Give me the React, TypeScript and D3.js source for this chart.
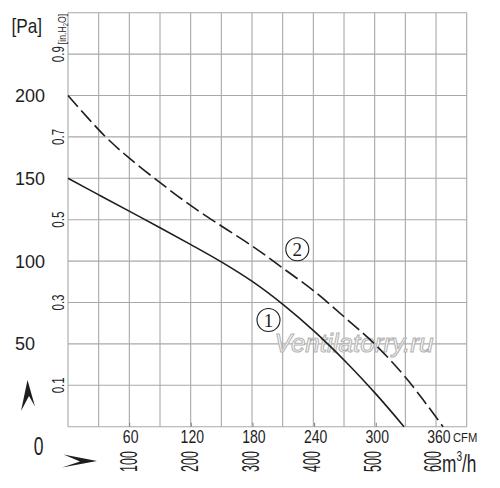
import React from 'react'
import * as d3 from 'd3'

// curve 1 (solid) and curve 2 (dashed), flow in CFM, pressure in Pa
const curve1Cfm = [0, 30, 60, 90, 120, 150, 180, 210, 240, 270, 300, 327]
const curve1Pa = [150, 140, 130, 120, 109.8, 99.2, 87.4, 73.4, 57.4, 39.4, 19.5, 0]
const curve2Cfm = [0, 36, 60, 90, 120, 150, 180, 209, 240, 269, 299, 329, 365]
const curve2Pa = [200, 175.4, 162, 147.2, 133.3, 120.9, 108.8, 95.8, 81.6, 66.2, 49.6, 29.4, 0]

const paTicks = [200, 150, 100, 50]
const inchTicks = [0.1, 0.3, 0.5, 0.7, 0.9]
const cfmTicks = [60, 120, 180, 240, 300, 360]
const m3hTicks = [100, 200, 300, 400, 500, 600]

const W = 500
const H = 488
const left = 68
const right = 466.7
const top = 12.7
const bottom = 426.7

const font = "'Liberation Sans', Arial, sans-serif"
const ink = '#1e1e1e'
const gridColor = '#a8a8a8'

export default function App() {
  const x = d3.scaleLinear().domain([0, 388]).range([left, right])
  const xM3h = d3.scaleLinear().domain([0, 655]).range([left + 0.7, right])
  const y = d3.scaleLinear().domain([0, 250]).range([bottom, top])
  const yIn = d3.scaleLinear().domain([0, 1]).range([bottom, top])
  const gridX = d3.scaleLinear().domain([0, 13]).range([left, right])

  const line = d3.line<[number, number]>()
    .x(d => x(d[0]))
    .y(d => y(d[1]))
    .curve(d3.curveCatmullRom.alpha(0.5))

  const pts1 = curve1Cfm.map((c, i) => [c, curve1Pa[i]] as [number, number])
  const pts2 = curve2Cfm.map((c, i) => [c, curve2Pa[i]] as [number, number])

  return (
    <svg width={W} height={H} style={{ position: 'absolute', left: 0, top: 0, background: '#fff' }}
      fontFamily={font}>
      <rect width={W} height={H} fill="#fff" />

      {/* grid */}
      <g stroke={gridColor} strokeWidth={1.1}>
        {d3.range(14).map(i => (
          <line key={'v' + i} x1={gridX(i)} x2={gridX(i)} y1={top} y2={bottom} />
        ))}
        {d3.range(0, 251, 25).map(v => (
          <line key={'h' + v} x1={left} x2={right} y1={y(v)} y2={y(v)} />
        ))}
        {cfmTicks.slice(0, 5).map(v => (
          <line key={'t' + v} x1={x(v)} x2={x(v)} y1={bottom - 4} y2={bottom} stroke="#888" />
        ))}
      </g>

      {/* watermark */}
      <text x={354} y={352} fontSize={26} fontStyle="italic" textAnchor="middle"
        fill="#fff" stroke="#b4b4b4" strokeWidth={1.1}>Ventilatorry.ru</text>

      {/* curves */}
      <path d={line(pts1) ?? ''} fill="none" stroke={ink} strokeWidth={1.6} />
      <path d={line(pts2) ?? ''} fill="none" stroke={ink} strokeWidth={1.6} strokeDasharray="15 5" />

      {/* curve labels */}
      {[{ n: '1', cx: 268.5, cy: 320 }, { n: '2', cx: 297.3, cy: 249.3 }].map(c => (
        <g key={c.n}>
          <circle cx={c.cx} cy={c.cy} r={11.5} fill="#fff" stroke={ink} strokeWidth={1.1} />
          <text x={c.cx} y={c.cy + 6.5} textAnchor="middle" fontSize={19}
            fontFamily="'Liberation Serif', 'DejaVu Serif', serif" fill={ink}>{c.n}</text>
        </g>
      ))}

      {/* Pa axis */}
      <text transform="translate(11.5,33) scale(0.82,1)" fontSize={21} fill={ink}>[Pa]</text>
      {paTicks.map(v => (
        <text key={v} x={15} y={y(v) + 6.5} fontSize={18} fill={ink}>{v}</text>
      ))}
      <text transform="translate(38.5,455) scale(0.7,1)" textAnchor="middle" fontSize={25} fill={ink}>0</text>

      {/* inch H2O axis */}
      {inchTicks.map(v => (
        <text key={v} transform={`translate(63.5,${yIn(v)}) rotate(-90) scale(0.68,1)`}
          textAnchor="middle" fontSize={17} fill={ink}>{v}</text>
      ))}
      <text transform="translate(66,29) rotate(-90) scale(0.83,1)" textAnchor="middle" fontSize={10.5} fill={ink}>
        [in.H<tspan fontSize={7} dy={2}>2</tspan><tspan dy={-2}>O]</tspan>
      </text>

      {/* arrows */}
      <path d="M27.5,380 L35,406.5 L29,396 L21,411 Z" fill={ink} />
      <path d="M97,461 L63.5,454.5 L80,461.5 L62,467.5 Z" fill={ink} />

      {/* CFM axis */}
      {cfmTicks.map(v => (
        <text key={v} transform={`translate(${x(v) + 1},443) scale(0.78,1)`}
          textAnchor="middle" fontSize={18} fill={ink}>{v}</text>
      ))}
      <text transform="translate(453,442) scale(0.9,1)" fontSize={12.5} fill={ink}>CFM</text>

      {/* m3/h axis */}
      {m3hTicks.map(v => (
        <text key={v} transform={`translate(${xM3h(v) + 8},461.5) rotate(-90) scale(0.52,1)`}
          textAnchor="middle" fontSize={24} fill={ink}>{v}</text>
      ))}
      <text transform="translate(442,472) scale(0.72,1)" fontSize={24} fill={ink}>
        m<tspan fontSize={14} dy={-11}>3</tspan><tspan dy={11}>/h</tspan>
      </text>
    </svg>
  )
}
